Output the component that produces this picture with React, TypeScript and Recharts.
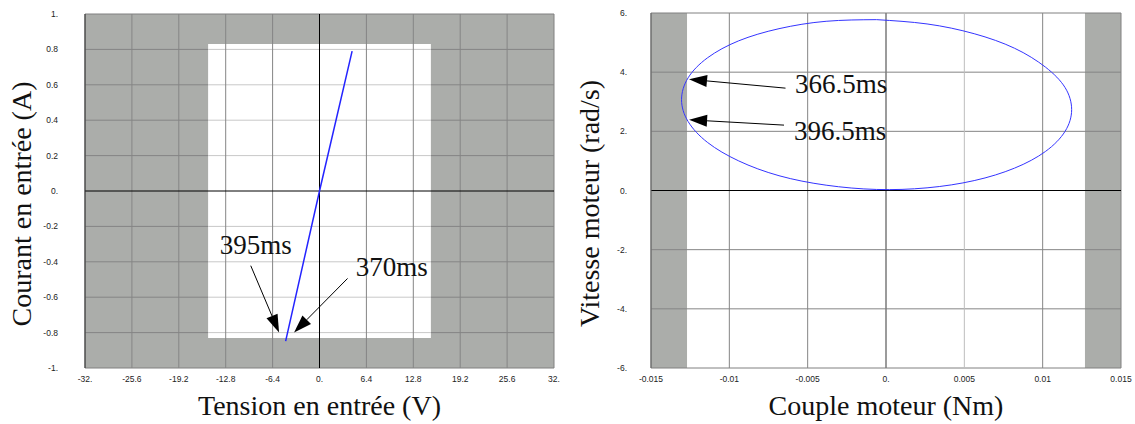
import { ComposedChart, Line, XAxis, YAxis, ReferenceArea, ReferenceLine, ReferenceDot, Label } from 'recharts';

const GREY = '#abadaa';
const GRID = '#858585';
const GRID_LIGHT = '#c8c8c8';
const SERIF = '"Liberation Serif", "Times New Roman", serif';
const SANS = '"Liberation Sans", Arial, sans-serif';

// --- gauche : courant / tension ---
const tension = [-4.62, 0, 4.45];
const courant = [-0.848, 0, 0.79];
const tensionTicks = [-32, -25.6, -19.2, -12.8, -6.4, 0, 6.4, 12.8, 19.2, 25.6, 32];
const tensionLabels = ['-32.', '-25.6', '-19.2', '-12.8', '-6.4', '0.', '6.4', '12.8', '19.2', '25.6', '32.'];
const courantTicks = [-1, -0.8, -0.6, -0.4, -0.2, 0, 0.2, 0.4, 0.6, 0.8, 1];
const courantLabels = ['-1.', '-0.8', '-0.6', '-0.4', '-0.2', '0.', '0.2', '0.4', '0.6', '0.8', '1.'];

// --- droite : vitesse / couple (boucle, depuis le haut) ---
const couple = [
  -0.0006, -0.00382, -0.00683, -0.0094, -0.01138, -0.01263, -0.01305, -0.01263, -0.01138,
  -0.0094, -0.00683, -0.00382, -0.0006, 0.00262, 0.00563, 0.0082, 0.01018, 0.01143,
  0.01185, 0.01143, 0.01018, 0.0082, 0.00563, 0.00262, -0.0006,
];
const vitesse = [
  5.775, 5.72, 5.47, 5.06, 4.49, 3.81, 3.07, 2.33, 1.62,
  1.0, 0.5, 0.18, 0.035, 0.09, 0.335, 0.755, 1.32, 2.0,
  2.735, 3.48, 4.17, 4.81, 5.3, 5.63, 5.775,
];
const coupleTicks = [-0.015, -0.01, -0.005, 0, 0.005, 0.01, 0.015];
const coupleLabels = ['-0.015', '-0.01', '-0.005', '0.', '0.005', '0.01', '0.015'];
const vitesseTicks = [-6, -4, -2, 0, 2, 4, 6];
const vitesseLabels = ['-6.', '-4.', '-2.', '0.', '2.', '4.', '6.'];

const ivData = tension.map((v, i) => ({ v, i: courant[i] }));
const cwData = couple.map((c, i) => ({ c, w: vitesse[i] }));

const Arrow = (props: any) => {
  const { x1, y1, x2, y2 } = props;
  const dx = x2 - x1;
  const dy = y2 - y1;
  const len = Math.hypot(dx, dy) || 1;
  const ux = dx / len;
  const uy = dy / len;
  const hl = 18;
  const hw = 6;
  const bx = x2 - ux * hl;
  const by = y2 - uy * hl;
  return (
    <g>
      <line x1={x1} y1={y1} x2={bx} y2={by} stroke="#000" strokeWidth={1} />
      <polygon
        points={`${x2},${y2} ${bx - uy * hw},${by + ux * hw} ${bx + uy * hw},${by - ux * hw}`}
        fill="#000"
      />
    </g>
  );
};

const note = (text: string) => (props: any) => (
  <text x={props.cx} y={props.cy} fontFamily={SERIF} fontSize={27} fill="#111">
    {text}
  </text>
);

const xTitle = (text: string) => (props: any) => {
  const vb = props.viewBox;
  return (
    <text x={vb.x + vb.width / 2} y={vb.y + 47} textAnchor="middle" fontFamily={SERIF} fontSize={28} fill="#111">
      {text}
    </text>
  );
};

const yTitle = (text: string, bx: number) => (props: any) => {
  const vb = props.viewBox;
  const cx = vb.x + bx;
  const cy = vb.y + vb.height / 2 + 13;
  return (
    <text x={cx} y={cy} transform={`rotate(-90, ${cx}, ${cy})`} textAnchor="middle" fontFamily={SERIF} fontSize={28} fill="#111">
      {text}
    </text>
  );
};

const tickStyle = { fontSize: 8.5, fontFamily: SANS, fill: '#222' };
const WHITE_X = 15.2;
const WHITE_Y = 0.83;

function CourantChart() {
  const rows = courantTicks.filter((c) => c !== 0 && Math.abs(c) < 1);
  const cols = tensionTicks.filter((t) => t !== 0 && Math.abs(t) < 32);
  return (
    <ComposedChart width={570} height={424} data={ivData} margin={{ top: 14, right: 16, bottom: 0, left: 0 }}>
      <XAxis
        dataKey="v"
        type="number"
        domain={[-32, 32]}
        ticks={tensionTicks}
        interval={0}
        tickFormatter={(v) => tensionLabels[tensionTicks.indexOf(v)]}
        tick={tickStyle}
        tickLine={false}
        tickSize={0}
        tickMargin={8}
        axisLine={false}
        height={56}
        allowDataOverflow
      >
        <Label content={xTitle('Tension en entrée (V)')} />
      </XAxis>
      <YAxis
        type="number"
        domain={[-1, 1]}
        ticks={courantTicks}
        interval={0}
        tickFormatter={(v) => courantLabels[courantTicks.indexOf(v)]}
        tick={tickStyle}
        tickLine={false}
        tickSize={0}
        tickMargin={27}
        axisLine={{ stroke: '#333' }}
        width={85}
        allowDataOverflow
      >
        <Label content={yTitle('Courant en entrée (A)', 31)} />
      </YAxis>
      <ReferenceArea x1={-32} x2={32} y1={-1} y2={1} fill={GREY} fillOpacity={1} stroke="none" />
      <ReferenceArea x1={-WHITE_X} x2={WHITE_X} y1={-WHITE_Y} y2={WHITE_Y} fill="#fff" fillOpacity={1} stroke="none" />
      {rows.map((c) => (
        <ReferenceLine key={`hl${c}`} segment={[{ x: -32, y: c }, { x: -WHITE_X, y: c }]} stroke={GRID} />
      ))}
      {rows.map((c) => (
        <ReferenceLine key={`hr${c}`} segment={[{ x: WHITE_X, y: c }, { x: 32, y: c }]} stroke={GRID} />
      ))}
      {rows.map((c) => (
        <ReferenceLine key={`hm${c}`} segment={[{ x: -WHITE_X, y: c }, { x: WHITE_X, y: c }]} stroke={GRID_LIGHT} />
      ))}
      {cols.map((t) => (
        <ReferenceLine key={`v${t}`} x={t} stroke={GRID} />
      ))}
      <ReferenceLine y={0} stroke="#000" />
      <ReferenceLine x={0} stroke="#000" />
      <ReferenceArea x1={-32} x2={32} y1={-1} y2={1} fill="none" stroke="#808080" />
      <Line dataKey="i" type="linear" stroke="#2424ff" strokeWidth={1.5} dot={false} isAnimationActive={false} />
      <ReferenceLine segment={[{ x: -9.38, y: -0.422 }, { x: -5.52, y: -0.8 }]} shape={Arrow} />
      <ReferenceLine segment={[{ x: 3.83, y: -0.494 }, { x: -3.47, y: -0.8 }]} shape={Arrow} />
      <ReferenceDot x={-13.62} y={-0.354} shape={note('395ms')} />
      <ReferenceDot x={4.96} y={-0.479} shape={note('370ms')} />
    </ComposedChart>
  );
}

function VitesseChart() {
  const rows = vitesseTicks.filter((w) => w !== 0 && Math.abs(w) < 6);
  const cols = coupleTicks.filter((c) => c !== 0 && Math.abs(c) < 0.015);
  return (
    <ComposedChart width={565} height={424} data={cwData} margin={{ top: 13, right: 14, bottom: 0, left: 0 }}>
      <XAxis
        dataKey="c"
        type="number"
        domain={[-0.015, 0.015]}
        ticks={coupleTicks}
        interval={0}
        tickFormatter={(v) => coupleLabels[coupleTicks.indexOf(v)]}
        tick={tickStyle}
        tickLine={false}
        tickSize={0}
        tickMargin={8}
        axisLine={false}
        height={56}
        allowDataOverflow
      >
        <Label content={xTitle('Couple moteur (Nm)')} />
      </XAxis>
      <YAxis
        type="number"
        domain={[-6, 6]}
        ticks={vitesseTicks}
        interval={0}
        tickFormatter={(v) => vitesseLabels[vitesseTicks.indexOf(v)]}
        tick={tickStyle}
        tickLine={false}
        tickSize={0}
        tickMargin={24}
        axisLine={{ stroke: '#666' }}
        width={81}
        allowDataOverflow
      >
        <Label content={yTitle('Vitesse moteur (rad/s)', 29)} />
      </YAxis>
      <ReferenceArea x1={-0.015} x2={-0.0127} y1={-6} y2={6} fill={GREY} fillOpacity={1} stroke="none" />
      <ReferenceArea x1={0.0127} x2={0.015} y1={-6} y2={6} fill={GREY} fillOpacity={1} stroke="none" />
      {rows.map((w) => (
        <ReferenceLine key={`h${w}`} y={w} stroke={GRID} />
      ))}
      {cols.map((c) => (
        <ReferenceLine key={`v${c}`} x={c} stroke={c === 0.005 ? '#bdbdbd' : GRID} />
      ))}
      <ReferenceLine x={0} stroke="#7a7a7a" strokeWidth={1.5} />
      <ReferenceLine y={0} stroke="#000" />
      <ReferenceArea x1={-0.015} x2={0.015} y1={-6} y2={6} fill="none" stroke="#808080" />
      <Line dataKey="w" type="natural" stroke="#3434ff" strokeWidth={1} dot={false} isAnimationActive={false} />
      <ReferenceLine segment={[{ x: -0.006414, y: 3.46 }, { x: -0.012572, y: 3.76 }]} shape={Arrow} />
      <ReferenceLine segment={[{ x: -0.00651, y: 2.21 }, { x: -0.01257, y: 2.39 }]} shape={Arrow} />
      <ReferenceDot x={-0.005808} y={3.29} shape={note('366.5ms')} />
      <ReferenceDot x={-0.00587} y={1.706} shape={note('396.5ms')} />
    </ComposedChart>
  );
}

export default function App() {
  return (
    <div style={{ position: 'absolute', left: 0, top: 0, width: 1135, height: 424, display: 'flex', background: '#fff' }}>
      <CourantChart />
      <VitesseChart />
    </div>
  );
}
